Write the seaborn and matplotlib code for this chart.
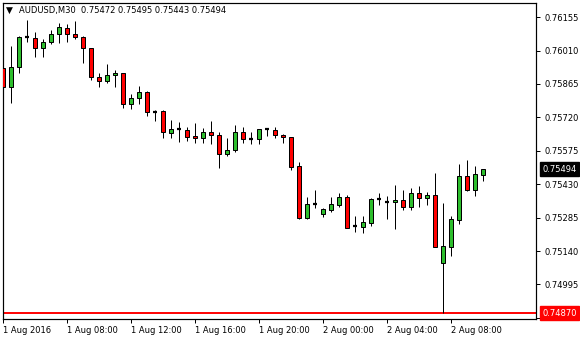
import matplotlib
matplotlib.use("Agg")
import matplotlib.pyplot as plt
import matplotlib.transforms as mtransforms
import numpy as np
import pandas as pd
import seaborn as sns

symbol = "AUDUSD,M30"

opens = [0.75933, 0.75852, 0.75938, 0.76067, 0.76066, 0.76020, 0.76046, 0.76081, 0.76107, 0.76082,
         0.76068, 0.76020, 0.75894, 0.75877, 0.75903, 0.75912, 0.75777, 0.75803, 0.75832, 0.75745,
         0.75748, 0.75651, 0.75670, 0.75664, 0.75638, 0.75629, 0.75656, 0.75642, 0.75560, 0.75577,
         0.75656, 0.75625, 0.75625, 0.75668, 0.75664, 0.75642, 0.75634, 0.75508, 0.75285, 0.75343,
         0.75299, 0.75318, 0.75341, 0.75375, 0.75249, 0.75246, 0.75263, 0.75366, 0.75353, 0.75352,
         0.75360, 0.75333, 0.75392, 0.75372, 0.75383, 0.75090, 0.75159, 0.75276, 0.75464, 0.75405, 0.75472]

highs = [0.75969, 0.76030, 0.76073, 0.76143, 0.76089, 0.76059, 0.76099, 0.76129, 0.76124, 0.76139,
         0.76075, 0.76022, 0.75912, 0.75951, 0.75926, 0.75914, 0.75820, 0.75856, 0.75835, 0.75752,
         0.75750, 0.75709, 0.75699, 0.75677, 0.75696, 0.75673, 0.75705, 0.75656, 0.75629, 0.75686,
         0.75677, 0.75656, 0.75670, 0.75670, 0.75677, 0.75647, 0.75636, 0.75528, 0.75375, 0.75405,
         0.75326, 0.75376, 0.75393, 0.75383, 0.75292, 0.75292, 0.75368, 0.75393, 0.75379, 0.75427,
         0.75405, 0.75414, 0.75422, 0.75395, 0.75480, 0.75349, 0.75292, 0.75518, 0.75535, 0.75509, 0.75495]

lows = [0.75826, 0.75783, 0.75912, 0.76049, 0.75984, 0.75981, 0.76037, 0.76042, 0.76049, 0.76059,
        0.75955, 0.75882, 0.75851, 0.75871, 0.75850, 0.75760, 0.75755, 0.75777, 0.75728, 0.75705,
        0.75632, 0.75632, 0.75615, 0.75619, 0.75610, 0.75610, 0.75606, 0.75499, 0.75554, 0.75571,
        0.75610, 0.75603, 0.75606, 0.75641, 0.75632, 0.75610, 0.75493, 0.75280, 0.75280, 0.75325,
        0.75289, 0.75310, 0.75333, 0.75238, 0.75224, 0.75220, 0.75249, 0.75340, 0.75279, 0.75236,
        0.75318, 0.75318, 0.75333, 0.75340, 0.75159, 0.74871, 0.75119, 0.75258, 0.75402, 0.75380, 0.75443]

closes = [0.75853, 0.75939, 0.76068, 0.76067, 0.76020, 0.76047, 0.76081, 0.76111, 0.76081, 0.76069,
          0.76020, 0.75894, 0.75877, 0.75903, 0.75912, 0.75777, 0.75803, 0.75832, 0.75742, 0.75745,
          0.75656, 0.75670, 0.75670, 0.75636, 0.75629, 0.75656, 0.75642, 0.75560, 0.75577, 0.75656,
          0.75625, 0.75625, 0.75668, 0.75665, 0.75642, 0.75634, 0.75503, 0.75285, 0.75343, 0.75343,
          0.75321, 0.75343, 0.75375, 0.75241, 0.75249, 0.75266, 0.75366, 0.75366, 0.75353, 0.75360,
          0.75333, 0.75392, 0.75372, 0.75383, 0.75159, 0.75160, 0.75278, 0.75464, 0.75405, 0.75474, 0.75494]

xtick_labels = ["1 Aug 2016", "1 Aug 08:00", "1 Aug 12:00", "1 Aug 16:00",
                "1 Aug 20:00", "2 Aug 00:00", "2 Aug 04:00", "2 Aug 08:00"]
ytick_values = [0.76155, 0.76010, 0.75865, 0.75720, 0.75575, 0.75430,
                0.75285, 0.75140, 0.74995, 0.74850]
hline_price = 0.74870

BULL = "#2dbe2d"
BEAR = "#ff0000"

sns.set_style("white")
plt.rcParams["font.family"] = ["DejaVu Sans"]

df = pd.DataFrame({"open": opens, "high": highs, "low": lows, "close": closes})
df["x"] = np.arange(len(df))
df["diff"] = df["close"] - df["open"]
df["doji"] = df["diff"].abs() < 0.00004
df["color"] = np.where(df["diff"] > 0, BULL, BEAR)

W, H = 580, 340
fig = plt.figure(figsize=(W / 100, H / 100), dpi=100)
ax = fig.add_axes([3 / W, 1 - 319 / H, 533 / W, 316 / H])

px = 0.72  # one pixel in points
# wicks
ax.vlines(df["x"], df["low"], df["high"], color="black", linewidth=px, zorder=2)
# bodies
body = df[~df["doji"]]
ax.bar(body["x"], body["diff"].abs(), bottom=np.minimum(body["open"], body["close"]),
       width=0.62, color=body["color"], edgecolor="black", linewidth=px, zorder=3)
dj = df[df["doji"]]
ax.hlines(dj["open"], dj["x"] - 0.31, dj["x"] + 0.31, color="black", linewidth=1.6, zorder=3)

# horizontal line
ax.axhline(hline_price, color="#ff0000", linewidth=1.4, zorder=1)

ax.set_xlim(0, 533 / 8)
ax.set_ylim(0.748449, 0.762166)

ax.set_xticks(np.arange(0, len(xtick_labels) * 8, 8))
ax.set_xticklabels(xtick_labels, ha="left")
ax.yaxis.tick_right()
ax.set_yticks(ytick_values)
ax.set_yticklabels([f"{v:.5f}" for v in ytick_values])
ax.tick_params(axis="x", direction="out", length=3, width=px, pad=2, labelsize=6,
               colors="black", bottom=True)
ax.tick_params(axis="y", direction="out", length=3, width=px, pad=3, labelsize=6,
               colors="black", right=True, left=False)
for s in ax.spines.values():
    s.set_color("black")
    s.set_linewidth(px * 1.2)
ax.grid(False)

# header
fig.text(9 / W, 1 - 10.5 / H, "▼", fontsize=6.5, ha="center", va="center", color="black")
header = f"{symbol}  {opens[-1]:.5f} {highs[-1]:.5f} {lows[-1]:.5f} {closes[-1]:.5f}"
fig.text(19 / W, 1 - 10.5 / H, header, fontsize=6, ha="left", va="center", color="black")

# price boxes on right
trans = mtransforms.blended_transform_factory(ax.transAxes, ax.transData)
ax.text(1.012, closes[-1], f"{closes[-1]:.5f}", transform=trans, fontsize=6, color="white",
        ha="left", va="center", clip_on=False, zorder=5,
        bbox=dict(boxstyle="square,pad=0.3", fc="black", ec="black"))
ax.text(1.012, hline_price, f"{hline_price:.5f}", transform=trans, fontsize=6, color="white",
        ha="left", va="center", clip_on=False, zorder=5,
        bbox=dict(boxstyle="square,pad=0.3", fc="#ff0000", ec="#ff0000"))

fig.savefig("out.png", dpi=100)
